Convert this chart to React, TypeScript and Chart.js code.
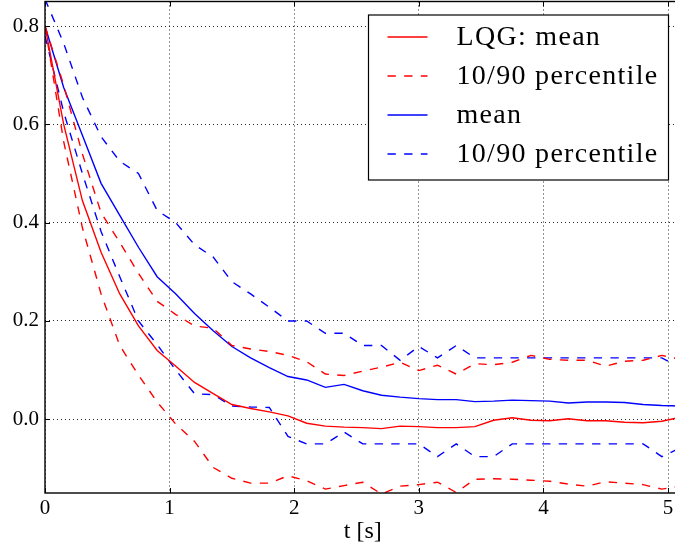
import React, { useEffect, useRef } from "react";
import { Chart, registerables } from "chart.js";

Chart.register(...registerables);

// time axis [s]
const T = [
  0, 0.15, 0.3, 0.45, 0.6, 0.75, 0.9, 1.05, 1.2, 1.35,
  1.5, 1.65, 1.8, 1.95, 2.1, 2.25, 2.4, 2.55, 2.7, 2.85,
  3.0, 3.15, 3.3, 3.45, 3.6, 3.75, 3.9, 4.05, 4.2, 4.35,
  4.5, 4.65, 4.8, 4.95, 5.1,
];

// LQG (red)
const lqgMean = [
  0.8, 0.6, 0.445, 0.34, 0.255, 0.19, 0.14, 0.108, 0.075, 0.052,
  0.03, 0.022, 0.015, 0.007, -0.008, -0.014, -0.016, -0.017, -0.019, -0.014,
  -0.015, -0.017, -0.017, -0.015, -0.002, 0.003, -0.002, -0.003, 0.001, -0.003,
  -0.003, -0.006, -0.007, -0.004, 0.004,
];
const lqgP90 = [
  0.8, 0.68, 0.54, 0.42, 0.36, 0.297, 0.24, 0.213, 0.19, 0.185,
  0.15, 0.143, 0.138, 0.13, 0.117, 0.092, 0.089, 0.098, 0.106, 0.116,
  0.099, 0.11, 0.092, 0.113, 0.111, 0.116, 0.13, 0.122, 0.12, 0.12,
  0.108, 0.118, 0.12, 0.13, 0.122,
];
const lqgP10 = [
  0.8, 0.565, 0.39, 0.255, 0.15, 0.09, 0.035, -0.01, -0.045, -0.098,
  -0.12, -0.13, -0.13, -0.115, -0.125, -0.142, -0.135, -0.128, -0.152, -0.136,
  -0.133, -0.128, -0.149, -0.122, -0.121, -0.122, -0.124, -0.126, -0.132, -0.136,
  -0.127, -0.13, -0.133, -0.142, -0.136,
];

// other controller (blue)
const ctrlMean = [
  0.8, 0.675, 0.578, 0.48, 0.415, 0.35, 0.29, 0.255, 0.215, 0.18,
  0.148, 0.125, 0.105, 0.087, 0.08, 0.065, 0.071, 0.058, 0.049, 0.045,
  0.042, 0.04, 0.04, 0.036, 0.037, 0.039, 0.038, 0.037, 0.033, 0.035,
  0.035, 0.034, 0.03, 0.028, 0.027,
];
const ctrlP90 = [
  0.855, 0.765, 0.655, 0.575, 0.525, 0.5, 0.425, 0.4, 0.355, 0.33,
  0.28, 0.255, 0.228, 0.2, 0.2, 0.175, 0.175, 0.15, 0.15, 0.12,
  0.148, 0.125, 0.15, 0.125, 0.125, 0.125, 0.125, 0.125, 0.125, 0.125,
  0.125, 0.125, 0.125, 0.125, 0.105,
];
const ctrlP10 = [
  0.78, 0.625, 0.5, 0.382, 0.29, 0.2, 0.152, 0.1, 0.052, 0.05,
  0.027, 0.025, 0.024, -0.035, -0.05, -0.05, -0.026, -0.05, -0.05, -0.05,
  -0.05, -0.076, -0.05, -0.076, -0.076, -0.05, -0.05, -0.05, -0.05, -0.05,
  -0.05, -0.05, -0.05, -0.076, -0.058,
];

const X_TICKS = [0, 1, 2, 3, 4, 5];
const Y_TICKS = [0, 0.2, 0.4, 0.6, 0.8];
const LEGEND_LABELS = ["LQG: mean", "10/90 percentile", "mean", "10/90 percentile"];
const X_TITLE = "t [s]";

const RED = "#ff0000";
const BLUE = "#0000ff";
const DASH = [8.33, 8.33];
const FONT = '"Liberation Serif", "Times New Roman", serif';

const pts = (ys: number[]) => T.map((t, i) => ({ x: t, y: ys[i] }));

const framePlugin = {
  id: "frameAndLegend",
  afterDatasetsDraw(chart: any) {
    const { ctx, chartArea: a, scales } = chart;
    ctx.save();
    // frame
    ctx.setLineDash([]);
    ctx.strokeStyle = "#000";
    ctx.lineWidth = 1.4;
    ctx.strokeRect(a.left, a.top, a.right - a.left, a.bottom - a.top);
    // inward tick marks on all four sides
    ctx.lineWidth = 1;
    const L = 5;
    const seg = (x1: number, y1: number, x2: number, y2: number) => {
      ctx.beginPath();
      ctx.moveTo(x1, y1);
      ctx.lineTo(x2, y2);
      ctx.stroke();
    };
    for (const v of X_TICKS) {
      const x = Math.round(scales.x.getPixelForValue(v)) + 0.5;
      seg(x, a.bottom, x, a.bottom - L);
      seg(x, a.top, x, a.top + L);
    }
    for (const v of Y_TICKS) {
      const y = Math.round(scales.y.getPixelForValue(v)) + 0.5;
      seg(a.left, y, a.left + L, y);
      seg(a.right, y, a.right - L, y);
    }
    // legend box
    const bw = 300;
    const bh = 165;
    const bx = a.right - 12 - bw;
    const by = a.top + 13.5;
    ctx.fillStyle = "#fff";
    ctx.fillRect(bx, by, bw, bh);
    ctx.lineWidth = 1.2;
    ctx.strokeStyle = "#000";
    ctx.strokeRect(bx, by, bw, bh);
    const entries = chart.data.datasets.filter((d: any) => d.label);
    entries.forEach((d: any, i: number) => {
      const y = by + 22 + i * 39;
      ctx.strokeStyle = d.borderColor;
      ctx.lineWidth = 1.4;
      ctx.setLineDash(d.borderDash || []);
      seg(bx + 19, y, bx + 59, y);
      ctx.setLineDash([]);
      ctx.fillStyle = "#000";
      ctx.font = `28px ${FONT}`;
      try {
        (ctx as any).letterSpacing = "1.3px";
      } catch (e) {}
      ctx.textBaseline = "middle";
      ctx.textAlign = "left";
      ctx.fillText(d.label, bx + 88, y + 1);
      try {
        (ctx as any).letterSpacing = "0px";
      } catch (e) {}
    });
    ctx.restore();
  },
};

export default function App() {
  const ref = useRef<HTMLCanvasElement | null>(null);

  useEffect(() => {
    if (!ref.current) return;
    const common = { pointRadius: 0, borderWidth: 1.4, tension: 0, fill: false };
    const chart = new Chart(ref.current, {
      type: "line",
      data: {
        datasets: [
          { ...common, label: LEGEND_LABELS[0], data: pts(lqgMean), borderColor: RED },
          { ...common, label: LEGEND_LABELS[1], data: pts(lqgP90), borderColor: RED, borderDash: DASH },
          { ...common, label: "", data: pts(lqgP10), borderColor: RED, borderDash: DASH },
          { ...common, label: LEGEND_LABELS[2], data: pts(ctrlMean), borderColor: BLUE },
          { ...common, label: LEGEND_LABELS[3], data: pts(ctrlP90), borderColor: BLUE, borderDash: DASH },
          { ...common, label: "", data: pts(ctrlP10), borderColor: BLUE, borderDash: DASH },
        ] as any,
      },
      options: {
        responsive: false,
        devicePixelRatio: 1,
        animation: false,
        layout: { padding: { left: 0, right: 9.5, top: 1.5, bottom: 0 } },
        plugins: { legend: { display: false }, tooltip: { enabled: false } },
        scales: {
          x: {
            type: "linear",
            min: 0,
            max: 5.1,
            afterFit: (s: any) => {
              s.height = 53;
              s.paddingLeft = 0;
              s.paddingRight = 0;
            },
            afterBuildTicks: (s: any) => {
              s.ticks = X_TICKS.map((v) => ({ value: v }));
            },
            ticks: {
              color: "#000",
              font: { family: FONT, size: 21 },
              padding: 3,
              maxRotation: 0,
              callback: (v: any) => String(v),
            },
            grid: { color: "rgba(0,0,0,0.85)", lineWidth: 1, drawTicks: false },
            border: { display: false, dash: [1, 3] },
            title: {
              display: true,
              text: X_TITLE,
              color: "#000",
              font: { family: FONT, size: 24 },
              padding: { top: 0, bottom: 0 },
            },
          },
          y: {
            type: "linear",
            min: -0.15,
            max: 0.85,
            afterFit: (s: any) => {
              s.width = 45;
              s.paddingTop = 0;
              s.paddingBottom = 0;
            },
            afterBuildTicks: (s: any) => {
              s.ticks = Y_TICKS.map((v) => ({ value: v }));
            },
            ticks: {
              color: "#000",
              font: { family: FONT, size: 21 },
              padding: 6,
              callback: (v: any) => Number(v).toFixed(1),
            },
            grid: { color: "rgba(0,0,0,0.85)", lineWidth: 1, drawTicks: false },
            border: { display: false, dash: [1, 3] },
          },
        },
      } as any,
      plugins: [framePlugin],
    });
    return () => chart.destroy();
  }, []);

  return (
    <div
      style={{
        position: "fixed",
        left: 0,
        top: 0,
        width: 675,
        height: 546,
        overflow: "hidden",
        background: "#fff",
      }}
    >
      <canvas ref={ref} width={690} height={546} style={{ display: "block", width: 690, height: 546 }} />
    </div>
  );
}
